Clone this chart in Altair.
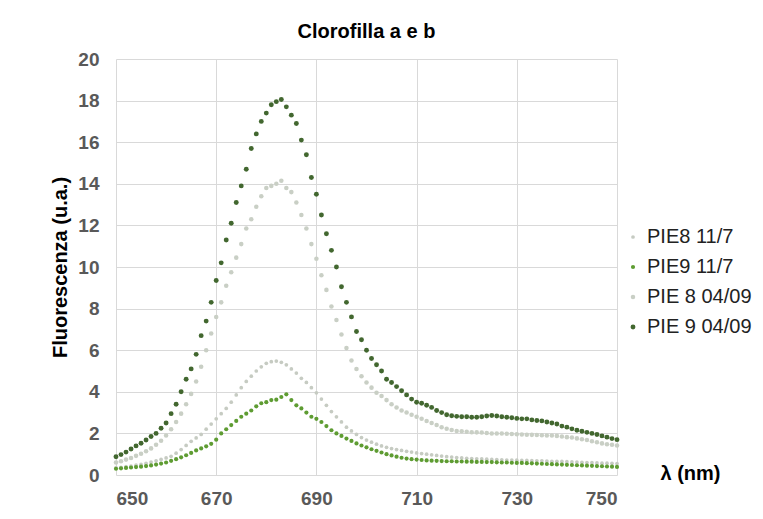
import altair as alt
import pandas as pd

wavelength = list(range(650, 751))

pie8_11_7 = [
    0.35, 0.37, 0.40, 0.43, 0.47, 0.51, 0.56, 0.62, 0.68, 0.75,
    0.82, 0.90, 1.05, 1.22, 1.42, 1.62, 1.78, 1.95, 2.20, 2.45,
    2.70, 2.95, 3.20, 3.50, 3.85, 4.20, 4.50, 4.75, 5.00, 5.20,
    5.37, 5.45, 5.48, 5.42, 5.30, 5.10, 4.90, 4.65, 4.45, 4.20,
    3.95, 3.65, 3.35, 3.05, 2.80, 2.55, 2.30, 2.12, 1.95, 1.80,
    1.68, 1.58, 1.48, 1.40, 1.33, 1.27, 1.22, 1.18, 1.14, 1.10,
    1.06, 1.03, 1.00, 0.97, 0.94, 0.91, 0.88, 0.86, 0.84, 0.82,
    0.80, 0.79, 0.78, 0.77, 0.76, 0.75, 0.74, 0.73, 0.72, 0.72,
    0.71, 0.70, 0.70, 0.69, 0.68, 0.68, 0.67, 0.66, 0.66, 0.65,
    0.64, 0.63, 0.62, 0.61, 0.60, 0.59, 0.58, 0.57, 0.57, 0.56,
    0.55,
]

pie9_11_7 = [
    0.30, 0.32, 0.34, 0.36, 0.38, 0.40, 0.43, 0.46, 0.50, 0.55,
    0.60, 0.68, 0.76, 0.85, 0.95, 1.06, 1.18, 1.28, 1.38, 1.50,
    1.70, 2.00, 2.20, 2.40, 2.60, 2.80, 2.95, 3.10, 3.30, 3.45,
    3.50, 3.60, 3.62, 3.75, 3.88, 3.60, 3.35, 3.20, 3.00, 2.80,
    2.70, 2.55, 2.35, 2.15, 2.00, 1.88, 1.75, 1.64, 1.52, 1.42,
    1.33, 1.24, 1.16, 1.08, 1.00, 0.94, 0.88, 0.83, 0.79, 0.76,
    0.74, 0.72, 0.70, 0.69, 0.68, 0.67, 0.66, 0.66, 0.65, 0.65,
    0.64, 0.64, 0.63, 0.63, 0.62, 0.62, 0.61, 0.60, 0.60, 0.59,
    0.58, 0.58, 0.57, 0.56, 0.55, 0.54, 0.53, 0.52, 0.51, 0.50,
    0.49, 0.48, 0.47, 0.46, 0.45, 0.44, 0.43, 0.42, 0.41, 0.40,
    0.39,
]

pie8_04_09 = [
    0.60, 0.66, 0.74, 0.82, 0.92, 1.02, 1.14, 1.28, 1.45, 1.65,
    1.90, 2.20, 2.55, 2.95, 3.40, 3.90, 4.50, 5.20, 6.00, 6.80,
    7.60, 8.30, 9.10, 9.75, 10.45, 11.10, 11.85, 12.30, 12.90, 13.40,
    13.80, 13.90, 14.00, 14.15, 13.80, 13.60, 13.10, 12.50, 11.85, 11.10,
    10.40, 9.60, 8.90, 8.10, 7.45, 6.75, 6.10, 5.50, 5.10, 4.75,
    4.45, 4.20, 3.95, 3.80, 3.60, 3.40, 3.25, 3.10, 3.00, 2.90,
    2.80, 2.70, 2.60, 2.50, 2.40, 2.30, 2.22, 2.16, 2.12, 2.10,
    2.08, 2.06, 2.05, 2.04, 2.02, 2.00, 2.00, 2.00, 1.98, 1.97,
    1.96, 1.95, 1.94, 1.93, 1.92, 1.91, 1.90, 1.90, 1.88, 1.85,
    1.82, 1.80, 1.76, 1.72, 1.68, 1.62, 1.57, 1.52, 1.48, 1.45,
    1.42,
]

pie9_04_09 = [
    0.88, 0.98, 1.10, 1.25, 1.40, 1.53, 1.68, 1.85, 2.00, 2.25,
    2.50, 2.95, 3.40, 4.00, 4.60, 5.10, 5.80, 6.70, 7.40, 8.30,
    9.35, 10.20, 11.30, 12.10, 13.10, 13.90, 14.70, 15.70, 16.40, 17.00,
    17.40, 17.80, 17.95, 18.05, 17.70, 17.30, 16.90, 16.10, 15.40, 14.30,
    13.50, 12.50, 11.60, 10.80, 10.00, 9.05, 8.30, 7.60, 6.90, 6.50,
    6.00, 5.60, 5.30, 5.00, 4.60, 4.45, 4.25, 4.05, 3.85, 3.65,
    3.50, 3.45, 3.35, 3.25, 3.10, 3.00, 2.90, 2.85, 2.82, 2.80,
    2.80, 2.78, 2.78, 2.80, 2.84, 2.86, 2.84, 2.80, 2.78, 2.75,
    2.72, 2.70, 2.70, 2.65, 2.62, 2.60, 2.55, 2.50, 2.45, 2.35,
    2.30, 2.22, 2.15, 2.10, 2.05, 2.00, 1.95, 1.88, 1.82, 1.75,
    1.70,
]

series_names = ["PIE8 11/7", "PIE9 11/7", "PIE 8 04/09", "PIE 9 04/09"]
series_values = [pie8_11_7, pie9_11_7, pie8_04_09, pie9_04_09]
series_colors = ["#c6cbc2", "#5e9c32", "#c9cfc5", "#42672f"]
series_sizes = [14, 24, 9, 40]

x_ticks = [650, 670, 690, 710, 730, 750]
y_ticks = [0, 2, 4, 6, 8, 10, 12, 14, 16, 18, 20]

rows = []
for name, vals in zip(series_names, series_values):
    for w, v in zip(wavelength, vals):
        rows.append({"lambda": w, "value": v, "series": name})
df = pd.DataFrame(rows)

FONT = "Liberation Sans"

chart = (
    alt.Chart(df)
    .mark_point(filled=True, shape="circle", opacity=1)
    .encode(
        x=alt.X(
            "lambda:Q",
            scale=alt.Scale(domain=[650, 750], nice=False, zero=False),
            axis=alt.Axis(
                values=x_ticks,
                title="λ (nm)",
                titleX=574,
                titleY=-2,
                titleAlign="center",
                titleBaseline="middle",
                titleFontSize=20,
                titleFontWeight="bold",
                titleColor="#000000",
                labelFontSize=19,
                labelFontWeight="bold",
                labelColor="#595959",
                labelPadding=14,
                ticks=False,
                domain=False,
                grid=True,
                gridColor="#d9d9d9",
            ),
        ),
        y=alt.Y(
            "value:Q",
            scale=alt.Scale(domain=[0, 20], nice=False),
            axis=alt.Axis(
                values=y_ticks,
                title="Fluorescenza (u.a.)",
                titleX=-56,
                titleY=208,
                titleAngle=270,
                titleAlign="center",
                titleBaseline="middle",
                titleFontSize=20,
                titleFontWeight="bold",
                titleColor="#000000",
                labelFontSize=19,
                labelFontWeight="bold",
                labelColor="#595959",
                labelPadding=17,
                ticks=False,
                domain=False,
                grid=True,
                gridColor="#d9d9d9",
            ),
        ),
        color=alt.Color(
            "series:N",
            scale=alt.Scale(domain=series_names, range=series_colors),
            legend=alt.Legend(
                title=None,
                orient="none",
                legendX=507,
                legendY=168,
                labelFontSize=20,
                labelFont=FONT,
                labelColor="#222222",
                rowPadding=10,
                labelOffset=4,
                symbolType="circle",
                padding=0,
            ),
        ),
        size=alt.Size(
            "series:N",
            scale=alt.Scale(domain=series_names, range=series_sizes),
            legend=None,
        ),
    )
    .properties(
        width=501,
        height=416,
        title=alt.Title(
            "Clorofilla a e b",
            fontSize=20,
            fontWeight="bold",
            font=FONT,
            color="#000000",
            anchor="middle",
            offset=8,
        ),
        autosize=alt.AutoSizeParams(type="none"),
        padding={"left": 108, "top": 51, "right": 138, "bottom": 34},
    )
    .configure(font=FONT)
    .configure_view(stroke=None)
)

chart.save("out.html", embed_options={"renderer": "svg", "actions": False})
